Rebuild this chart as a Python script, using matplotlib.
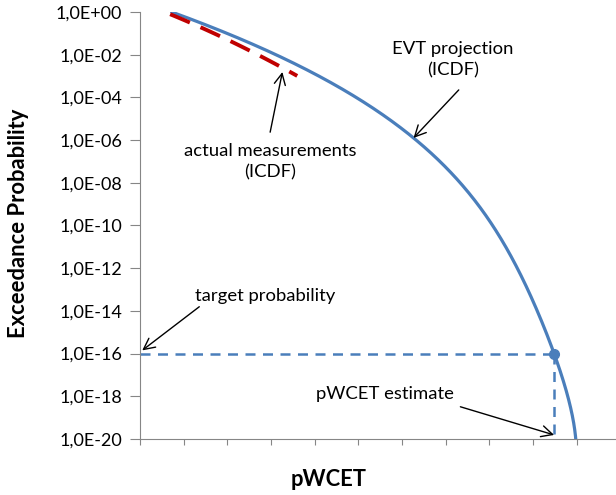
import numpy as np
import matplotlib.pyplot as plt
from matplotlib.ticker import FixedLocator, FuncFormatter

plt.rcParams['font.family'] = ['Lato', 'DejaVu Sans']

# EVT projection (ICDF): execution time vs log10 exceedance probability
evt_x = [0.69, 1.38, 2.29, 3.21, 4.13, 5.21, 5.96, 6.35, 7.18, 7.64, 8.42, 9.01, 9.47, 9.98]
evt_logp = [0.0, -0.47, -1.22, -2.16, -3.09, -4.26, -5.39, -6.0, -7.73, -8.81,
            -11.15, -13.49, -16.0, -20.0]

# actual measurements (ICDF)
meas_x = [0.69, 1.61, 2.29, 2.98, 3.60]
meas_logp = [-0.09, -0.94, -1.64, -2.2, -3.04]

target_logp = -16

blue = '#4A7EBB'
red = '#C00000'
grey = '#868686'

# smooth projection: execution time as a polynomial in log10 probability
coef = np.polyfit(evt_logp, evt_x, 5)
uf = np.linspace(0, -20, 400)
xf = np.polyval(coef, uf)
pwcet_x = np.polyval(coef, target_logp)

fig = plt.figure(figsize=(6.16, 4.95), dpi=100)
ax = fig.add_axes([0.2273, 0.1131, 0.7727, 0.8627])

ax.plot(xf, 10.0 ** uf, color=blue, lw=2.3, solid_capstyle='round', zorder=3)

mcoef = np.polyfit(meas_x, meas_logp, 2)
xm = np.linspace(meas_x[0], meas_x[-1], 100)
ax.plot(xm, 10.0 ** np.polyval(mcoef, xm), color=red, lw=2.8,
        dashes=(5.5, 3), zorder=4)

# target probability / pWCET estimate guides
ax.plot([0, pwcet_x], [10.0 ** target_logp] * 2, color=blue, lw=1.8, dashes=(4, 3))
ax.plot([pwcet_x, pwcet_x], [10.0 ** target_logp, 1e-20], color=blue, lw=1.8, dashes=(4, 3))
ax.plot([pwcet_x], [10.0 ** target_logp], 'o', color=blue, ms=7, zorder=5)

ax.set_yscale('log')
ax.set_ylim(1e-20, 1)
ax.set_xlim(0, 10.9)
ax.yaxis.set_major_locator(FixedLocator([10.0 ** e for e in range(-20, 1, 2)]))
ax.yaxis.set_minor_locator(FixedLocator([]))
ax.yaxis.set_major_formatter(FuncFormatter(
    lambda v, p: '1,0E%s%02d' % ('+' if v >= 1 else '-', abs(round(np.log10(v))))))
ax.xaxis.set_major_locator(FixedLocator(range(0, 11)))
ax.set_xticklabels([])

for s in ['top', 'right']:
    ax.spines[s].set_visible(False)
for s in ['left', 'bottom']:
    ax.spines[s].set_color(grey)
ax.tick_params(axis='y', colors=grey, length=7, labelcolor='black', labelsize=13, pad=6)
ax.tick_params(axis='x', colors=grey, length=4.5)

arrow = dict(arrowstyle='->', color='black', lw=1, mutation_scale=20, shrinkA=0, shrinkB=0)
fs = 13.3

evt_tip = -5.9
ax.annotate('EVT projection\n(ICDF)', xy=(np.polyval(coef, evt_tip), 10.0 ** evt_tip),
            xytext=(7.16, 10 ** -2.25), ha='center', va='center', fontsize=fs,
            linespacing=1.4, arrowprops=dict(arrow, relpos=(0.55, -0.3)))
ax.annotate('actual measurements\n(ICDF)', xy=(3.26, 10 ** -2.81),
            xytext=(2.98, 10 ** -7.03), ha='center', va='center', fontsize=fs,
            linespacing=1.4, arrowprops=dict(arrow, relpos=(0.5, 1.3)))
ax.annotate('target probability', xy=(0.05, 10 ** -15.85),
            xytext=(2.87, 10 ** -13.3), ha='center', va='center', fontsize=fs,
            arrowprops=dict(arrow, relpos=(0.04, -0.1)))
ax.annotate('pWCET estimate', xy=(pwcet_x, 10 ** -19.81),
            xytext=(5.6, 10 ** -17.89), ha='center', va='center', fontsize=fs,
            arrowprops=dict(arrow, relpos=(1.05, -0.3)))

fig.text(19 / 616, 1 - 223 / 495, 'Exceedance Probability', rotation=90,
         ha='center', va='center', fontsize=15.8, fontweight='bold')
fig.text(329 / 616, 1 - 480 / 495, 'pWCET', ha='center', va='center',
         fontsize=15.8, fontweight='bold')

fig.savefig('out.png', dpi=100)
